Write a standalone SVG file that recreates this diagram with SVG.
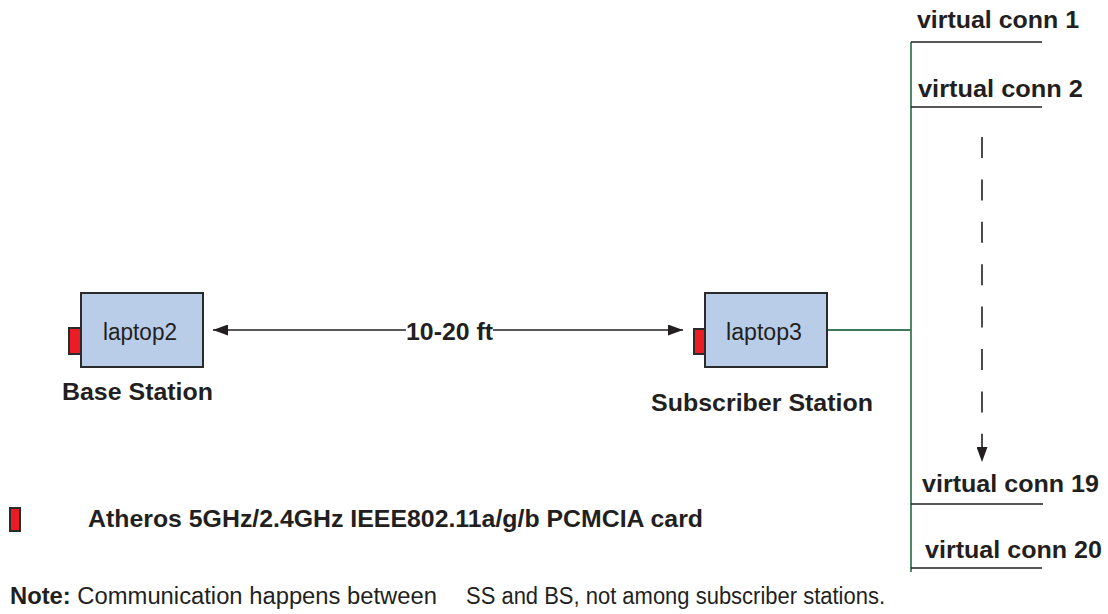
<svg xmlns="http://www.w3.org/2000/svg" width="1108" height="614" viewBox="0 0 1108 614">
  <style>
    .lbl { font-family: "Liberation Sans", Arial, sans-serif; fill: #231f20; }
    .reg { font-size: 23px; }
    .bold { font-size: 24px; font-weight: bold; }
    .box { fill: #b9cde9; stroke: #2b2b2b; stroke-width: 2; }
    .card { fill: #ec1c24; stroke: #2b2b2b; stroke-width: 2; }
    .wire { stroke: #231f20; stroke-width: 1.6; fill: none; }
    .bus { stroke: #3f7a58; stroke-width: 1.8; fill: none; }
  </style>
  <defs>
    <marker id="head" viewBox="0 0 15 11" refX="15" refY="5.5" markerWidth="15" markerHeight="11" markerUnits="userSpaceOnUse" orient="auto-start-reverse">
      <path d="M0,0 L15,5.5 L0,11 Z" fill="#231f20"/>
    </marker>
  </defs>

  <rect width="1108" height="614" fill="#ffffff"/>

  <!-- connectors -->
  <g id="connectors">
    <!-- wireless link between the two stations, broken around its label -->
    <line class="wire" x1="406" y1="330" x2="213" y2="330" marker-end="url(#head)"/>
    <line class="wire" x1="493" y1="330" x2="683" y2="330" marker-end="url(#head)"/>
    <text class="lbl bold" x="406" y="340" textLength="87" lengthAdjust="spacingAndGlyphs">10-20 ft</text>

    <!-- subscriber station to connection bus -->
    <line class="bus" x1="827" y1="330" x2="911" y2="330"/>
    <line class="bus" x1="911" y1="42" x2="911" y2="572"/>

    <!-- virtual connection taps -->
    <line class="wire" x1="911" y1="42" x2="1042" y2="42"/>
    <line class="wire" x1="911" y1="107" x2="1042" y2="107"/>
    <line class="wire" x1="911" y1="504" x2="1043" y2="504"/>
    <line class="wire" x1="911" y1="568" x2="1042" y2="568"/>

    <!-- ellipsis of intermediate connections -->
    <line class="wire" x1="982" y1="137" x2="982" y2="462" stroke-dasharray="21 21.4" marker-end="url(#head)"/>
  </g>

  <!-- base station -->
  <g id="laptop2">
    <rect class="box" x="81" y="293" width="122" height="74"/>
    <rect class="card" x="69" y="328" width="12" height="26"/>
    <text class="lbl reg" x="103" y="340" textLength="74" lengthAdjust="spacingAndGlyphs">laptop2</text>
    <text class="lbl bold" x="62" y="400" textLength="151" lengthAdjust="spacingAndGlyphs">Base Station</text>
  </g>

  <!-- subscriber station -->
  <g id="laptop3">
    <rect class="box" x="705" y="293" width="122" height="74"/>
    <rect class="card" x="694" y="329" width="11" height="25"/>
    <text class="lbl reg" x="726" y="340" textLength="76" lengthAdjust="spacingAndGlyphs">laptop3</text>
    <text class="lbl bold" x="651" y="411" textLength="222" lengthAdjust="spacingAndGlyphs">Subscriber Station</text>
  </g>

  <!-- virtual connections -->
  <g id="vconn1">
    <text class="lbl bold" x="917" y="28" textLength="162" lengthAdjust="spacingAndGlyphs">virtual conn 1</text>
  </g>
  <g id="vconn2">
    <text class="lbl bold" x="918" y="97" textLength="165" lengthAdjust="spacingAndGlyphs">virtual conn 2</text>
  </g>
  <g id="vconn19">
    <text class="lbl bold" x="922" y="492" textLength="177" lengthAdjust="spacingAndGlyphs">virtual conn 19</text>
  </g>
  <g id="vconn20">
    <text class="lbl bold" x="925" y="558" textLength="177" lengthAdjust="spacingAndGlyphs">virtual conn 20</text>
  </g>

  <!-- legend -->
  <g id="legend">
    <rect class="card" x="10" y="508" width="10" height="23"/>
    <text class="lbl bold" x="88" y="527" textLength="615" lengthAdjust="spacingAndGlyphs">Atheros 5GHz/2.4GHz IEEE802.11a/g/b PCMCIA card</text>
  </g>

  <!-- footnote -->
  <g id="note">
    <text class="lbl reg" x="10" y="604" textLength="427" lengthAdjust="spacingAndGlyphs"><tspan font-weight="bold">Note:</tspan> Communication happens between</text>
    <text class="lbl reg" x="466" y="604" textLength="419" lengthAdjust="spacingAndGlyphs">SS and BS, not among subscriber stations.</text>
  </g>
</svg>
